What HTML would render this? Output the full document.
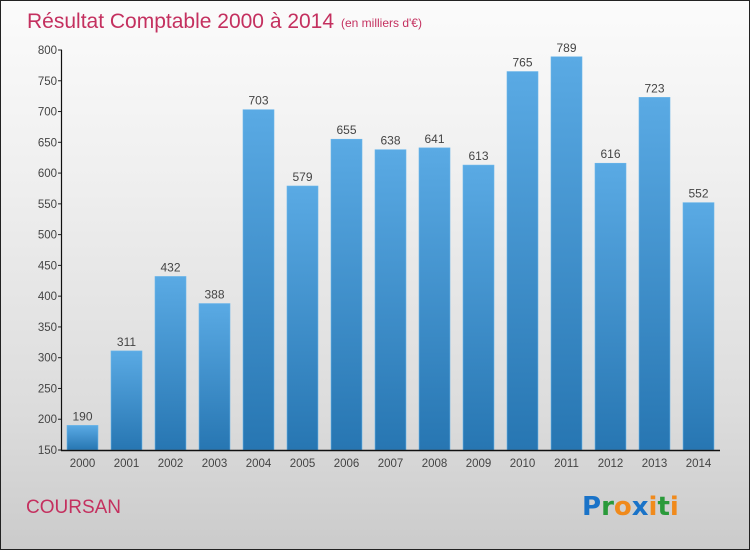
<!DOCTYPE html>
<html><head><meta charset="utf-8"><style>
html,body{margin:0;padding:0}
body{width:750px;height:550px;overflow:hidden}
#c{position:relative;width:748px;height:548px;border:1px solid #222;background:linear-gradient(#fbfbfb,#f0f0f0 30%,#dcdcdc 75%,#cbcbcb);font-family:"Liberation Sans",sans-serif}
</style></head><body>
<div id="c">
<svg width="748" height="548" id="svg">
<defs><linearGradient id="bg" x1="0" y1="0" x2="0" y2="1"><stop offset="0" stop-color="#5aaae4"/><stop offset="1" stop-color="#2776b2"/></linearGradient></defs>
<text x="26" y="27" font-size="21" fill="#c4305f">Résultat Comptable 2000 à 2014</text>
<text x="340" y="26" font-size="12" fill="#c4305f">(en milliers d'€)</text>
<text x="25" y="512" font-size="19" fill="#c4305f">COURSAN</text>
<g font-size="26" font-weight="bold" font-family="'DejaVu Sans',sans-serif">
<text x="581" y="514"><tspan fill="#1a73c8">P</tspan><tspan fill="#2a9a3a">r</tspan><tspan fill="#f08a1c">o</tspan><tspan fill="#1a73c8">x</tspan><tspan fill="#f08a1c">i</tspan><tspan fill="#2a9a3a">t</tspan><tspan fill="#f08a1c">i</tspan></text></g>
<g id="plot"></g>
</svg></div>
<script>
const years=["2000","2001","2002","2003","2004","2005","2006","2007","2008","2009","2010","2011","2012","2013","2014"];
const values=[190,311,432,388,703,579,655,638,641,613,765,789,616,723,552];
const yTicks=[150,200,250,300,350,400,450,500,550,600,650,700,750,800];
const NS="http://www.w3.org/2000/svg";
const g=document.getElementById('plot');
const y0=449,y1=49,vmin=150,vmax=800;
function ys(v){return y0-(v-vmin)/(vmax-vmin)*(y0-y1);}
function xs(i){return 81.5+i*44;}
function el(t,a,txt){const e=document.createElementNS(NS,t);for(const k in a)e.setAttribute(k,a[k]);if(txt!==undefined)e.textContent=txt;g.appendChild(e);return e;}
values.forEach((v,i)=>{
 const r=el('rect',{x:xs(i)-15.5,y:ys(v),width:31,height:y0-ys(v),fill:'url(#bg)',stroke:'#6bb6ea','stroke-width':0.6});
 
 
 const t=el('text',{x:xs(i),y:ys(v)-5,'text-anchor':'middle','font-size':12,fill:'#444'},String(v));
 
 
 const xl=el('text',{x:xs(i),y:466,'text-anchor':'middle','font-size':11.5,fill:'#444'},years[i]);
 
 
});
yTicks.forEach(v=>{
 const l=el('line',{x1:57,x2:61,y1:ys(v),y2:ys(v),stroke:'#222'});
 
 
 const t=el('text',{x:56,y:ys(v)+4,'text-anchor':'end','font-size':11.5,fill:'#444'},String(v));
 
 
});
const ya=el('line',{x1:60.5,x2:60.5,y1:y1,y2:y0+1,stroke:'#111','stroke-width':1.2});


const xa=el('line',{x1:60,x2:719,y1:y0+0.5,y2:y0+0.5,stroke:'#111','stroke-width':1.4});


</script>
</body></html>
